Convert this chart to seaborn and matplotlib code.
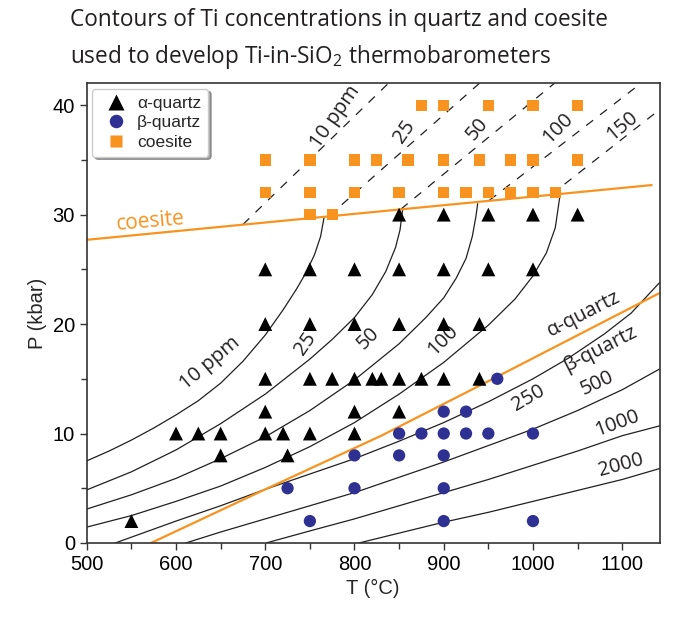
import matplotlib
matplotlib.use("Agg")
import matplotlib.pyplot as plt
import seaborn as sns
import pandas as pd
import numpy as np

# Sample points (T in degC, P in kbar)
alpha_T = [550, 600, 625, 650, 650, 700, 700, 700, 700, 700, 720, 725, 750, 750, 750, 750,
           775, 800, 800, 800, 800, 800, 820, 830, 850, 850, 850, 850, 850, 875,
           900, 900, 900, 900, 940, 940, 950, 950, 1000, 1000, 1050]
alpha_P = [2, 10, 10, 10, 8, 10, 12, 15, 20, 25, 10, 8, 10, 15, 20, 25,
           15, 10, 12, 15, 20, 25, 15, 15, 12, 15, 20, 25, 30, 15,
           15, 20, 25, 30, 15, 20, 25, 30, 25, 30, 30]
beta_T = [725, 750, 800, 800, 850, 850, 875, 900, 900, 900, 900, 900, 925, 925, 950, 960, 1000, 1000]
beta_P = [5, 2, 8, 5, 10, 8, 10, 12, 10, 8, 5, 2, 12, 10, 10, 15, 10, 2]
coes_T = [700, 700, 750, 750, 750, 775, 800, 800, 825, 850, 860, 875, 900, 900, 900, 925,
          940, 950, 950, 975, 975, 1000, 1000, 1000, 1025, 1050, 1050]
coes_P = [35, 32, 35, 32, 30, 30, 35, 32, 35, 32, 35, 40, 40, 35, 32, 32,
          35, 40, 32, 35, 32, 40, 35, 32, 32, 40, 35]

# Ti-in-quartz isopleths (solid)
c10_T = [500, 525, 550, 575, 600, 625, 650, 675, 700, 720, 735, 745, 755, 762, 766]
c10_P = [7.5, 8.4, 9.4, 10.5, 11.7, 13.0, 14.6, 16.6, 19.0, 21.3, 23.2, 24.6, 26.3, 28.0, 29.8]
c25_T = [500, 550, 600, 650, 700, 750, 775, 800, 820, 835, 846, 851, 854]
c25_P = [4.85, 6.5, 8.5, 10.9, 13.6, 16.8, 18.6, 20.6, 22.7, 24.8, 27.0, 28.6, 30.5]
c50_T = [500, 550, 600, 650, 700, 750, 800, 850, 880, 900, 914, 925, 932, 936, 938]
c50_P = [3.1, 4.4, 5.9, 7.7, 9.7, 12.1, 14.9, 18.2, 20.6, 22.4, 24.2, 26.0, 28.0, 29.8, 31.0]
c100_T = [500, 550, 600, 650, 700, 750, 800, 850, 900, 950, 980, 1000, 1015, 1025, 1030]
c100_P = [1.45, 2.5, 3.8, 5.2, 6.9, 8.8, 11.0, 13.6, 16.5, 19.9, 22.3, 24.4, 26.5, 28.8, 31.6]
c250_T = [532, 600, 650, 700, 750, 800, 850, 900, 950, 1000, 1040, 1080, 1110, 1142]
c250_P = [0, 2.0, 3.4, 4.9, 6.3, 7.7, 9.3, 11.0, 12.9, 15.0, 16.9, 19.1, 21.0, 23.8]
c500_T = [611, 650, 700, 750, 800, 850, 900, 950, 1000, 1050, 1100, 1142]
c500_P = [0, 1.0, 2.2, 3.4, 4.6, 6.0, 7.4, 8.9, 10.4, 12.1, 14.0, 15.9]
c1000_T = [701, 750, 800, 850, 900, 950, 1000, 1050, 1100, 1142]
c1000_P = [0, 1.1, 2.2, 3.4, 4.6, 5.8, 7.1, 8.4, 9.8, 10.7]
c2000_T = [805, 850, 900, 950, 1000, 1050, 1100, 1142]
c2000_P = [0, 0.9, 1.9, 2.8, 3.8, 4.8, 5.8, 6.8]

# Ti-in-coesite isopleths (dashed)
d10_T, d10_P = [675, 838], [29.1, 42]
d25_T, d25_P = [771, 940], [29.85, 42]
d50_T, d50_P = [852, 1024], [30.5, 42]
d100_T, d100_P = [951, 1121], [31.3, 42]
d150_T, d150_P = [1020, 1142], [31.8, 39.6]

# phase boundaries
coe_T, coe_P = [500, 1133], [27.7, 32.7]
ab_T, ab_P = [572, 700, 830, 960, 1141], [0, 4.9, 9.8, 15.2, 22.8]

ORANGE = "#f7931e"
BLUE = "#2e3192"
INK = "#231f20"
LABEL_FONT = ["Open Sans", "DejaVu Sans"]

sns.set_theme(style="ticks")
plt.rcParams["font.family"] = ["Liberation Sans", "DejaVu Sans"]
plt.rcParams["mathtext.fontset"] = "custom"
plt.rcParams["mathtext.rm"] = "Open Sans"

fig = plt.figure(figsize=(6.78, 6.17), dpi=100)
ax = fig.add_axes([0.128, 0.12, 0.845, 0.745])

solid = [(c10_T, c10_P), (c25_T, c25_P), (c50_T, c50_P), (c100_T, c100_P),
         (c250_T, c250_P), (c500_T, c500_P), (c1000_T, c1000_P), (c2000_T, c2000_P)]
for t, p in solid:
    sns.lineplot(x=t, y=p, ax=ax, color=INK, lw=0.9, sort=False, estimator=None)

dashed = [(d10_T, d10_P), (d25_T, d25_P), (d50_T, d50_P), (d100_T, d100_P), (d150_T, d150_P)]
for t, p in dashed:
    sns.lineplot(x=t, y=p, ax=ax, color=INK, lw=0.9, sort=False, estimator=None,
                 linestyle=(0, (7, 7)))

sns.lineplot(x=coe_T, y=coe_P, ax=ax, color=ORANGE, lw=1.6, sort=False, estimator=None)
sns.lineplot(x=ab_T, y=ab_P, ax=ax, color=ORANGE, lw=1.6, sort=False, estimator=None)

pts = pd.DataFrame({
    "T": alpha_T + beta_T + coes_T,
    "P": alpha_P + beta_P + coes_P,
    "phase": ["α-quartz"] * len(alpha_T) + ["β-quartz"] * len(beta_T) + ["coesite"] * len(coes_T),
})
sns.scatterplot(data=pts, x="T", y="P", hue="phase", style="phase", size="phase", ax=ax,
                palette={"α-quartz": "black", "β-quartz": BLUE, "coesite": ORANGE},
                markers={"α-quartz": "^", "β-quartz": "o", "coesite": "s"},
                sizes={"α-quartz": 100, "β-quartz": 78, "coesite": 66},
                edgecolor="none", zorder=5)

# curve labels
lab = dict(family=LABEL_FONT, color=INK, fontsize=14.5, ha="center", va="center")
ax.text(638, 16.4, "10 ppm", rotation=40, **lab)
ax.text(745, 18.2, "25", rotation=55, **lab)
ax.text(816, 18.7, "50", rotation=45, **lab)
ax.text(899, 18.5, "100", rotation=45, **lab)
ax.text(995, 13.2, "250", rotation=30, **lab)
ax.text(1072, 14.6, "500", rotation=25, **lab)
ax.text(1094, 10.9, "1000", rotation=20, **lab)
ax.text(1098, 7.1, "2000", rotation=15, **lab)
ax.text(1057, 20.9, "α-quartz", rotation=27, **lab)
ax.text(1075, 17.7, "β-quartz", rotation=27, **lab)
ax.text(779, 38.9, "10 ppm", rotation=55, **lab)
ax.text(856, 37.6, "25", rotation=55, **lab)
ax.text(938, 37.8, "50", rotation=50, **lab)
ax.text(1028, 37.9, "100", rotation=45, **lab)
ax.text(1100, 38.1, "150", rotation=40, **lab)
ax.text(572, 29.4, "coesite", rotation=5, family=LABEL_FONT,
        color=ORANGE, fontsize=15, ha="center", va="center")

ax.set_xlim(500, 1142)
ax.set_ylim(0, 42)
ax.set_xticks([500, 600, 700, 800, 900, 1000, 1100])
ax.set_xticks(np.arange(550, 1150, 100), minor=True)
ax.set_yticks([0, 10, 20, 30, 40])
ax.set_yticks([5, 15, 25, 35], minor=True)
ax.tick_params(labelsize=14.5, length=5, width=1, colors="#333333", labelcolor="black")
ax.tick_params(which="minor", length=4, width=1, colors="#333333")
for s in ax.spines.values():
    s.set_color("#333333")
    s.set_linewidth(1.2)
ax.set_xlabel("T (°C)", fontsize=14.5)
ax.set_ylabel("P (kbar)", fontsize=14.5)

leg = ax.legend(loc="upper left", fontsize=12.5, frameon=True, fancybox=True, shadow=True,
                handletextpad=0.2, borderpad=0.4, labelspacing=0.25, markerscale=1.1,
                borderaxespad=0.3)
leg.get_frame().set_edgecolor("#cccccc")

fig.text(0.103, 0.967, "Contours of Ti concentrations in quartz and coesite",
         family=LABEL_FONT, fontsize=16.3, color=INK, va="center")
fig.text(0.103, 0.907, "used to develop Ti-in-SiO$_2$ thermobarometers",
         family=LABEL_FONT, fontsize=16.3, color=INK, va="center")

fig.savefig("out.png", dpi=100)
